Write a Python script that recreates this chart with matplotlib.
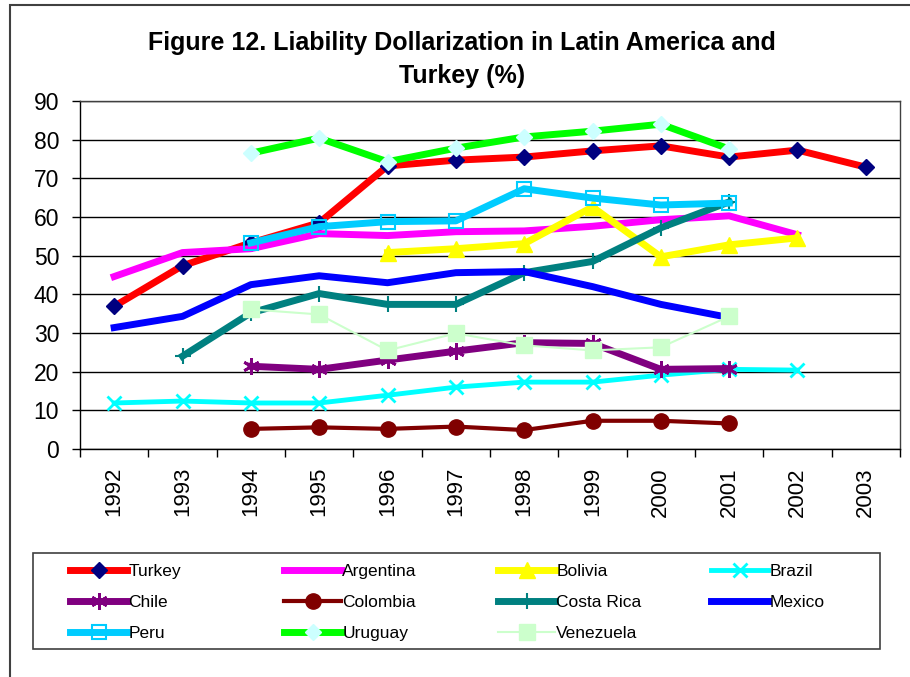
import matplotlib
matplotlib.use("Agg")
import matplotlib.pyplot as plt
import matplotlib.patches as patches
import numpy as np

plt.rcParams['font.family'] = ['Liberation Sans', 'DejaVu Sans']

years = ['1992', '1993', '1994', '1995', '1996', '1997', '1998', '1999',
         '2000', '2001', '2002', '2003']
nan = np.nan

turkey = [36.9, 47.4, 53.3, 58.5, 73.2, 74.7, 75.5, 77.1, 78.4, 75.5, 77.3, 72.9]
argentina = [44.6, 50.8, 51.8, 55.7, 55.2, 56.2, 56.4, 57.6, 59.3, 60.3, 55.4, nan]
bolivia = [nan, nan, nan, nan, 50.8, 51.8, 53.1, 62.6, 49.7, 52.8, 54.6, nan]
brazil = [11.9, 12.4, 11.9, 11.9, 13.9, 16.0, 17.3, 17.3, 19.1, 20.6, 20.4, nan]
chile = [nan, nan, 21.4, 20.6, 23.0, 25.3, 27.5, 27.3, 20.6, 20.8, nan, nan]
colombia = [nan, nan, 5.2, 5.6, 5.2, 5.8, 4.9, 7.3, 7.3, 6.6, nan, nan]
costa_rica = [nan, 24.0, 35.2, 40.2, 37.4, 37.4, 45.6, 48.5, 57.2, 63.9, nan, nan]
mexico = [31.4, 34.3, 42.5, 44.8, 43.0, 45.6, 45.9, 42.0, 37.4, 34.0, nan, nan]
peru = [nan, nan, 53.3, 57.5, 58.8, 59.0, 67.3, 64.9, 63.1, 63.6, nan, nan]
uruguay = [nan, nan, 76.5, 80.4, 74.3, 77.8, 80.7, 82.2, 84.0, 77.6, nan, nan]
venezuela = [nan, nan, 36.1, 34.8, 25.5, 29.9, 26.8, 25.5, 26.3, 34.3, nan, nan]

fig = plt.figure(figsize=(9.1, 6.77), dpi=100)
ax = fig.add_axes([80 / 910, 1 - 449 / 677, 820 / 910, 348 / 677])

x = np.arange(len(years))
lines = {}
# series drawn in the Excel order so later ones sit on top
lines['Turkey'] = ax.plot(x, turkey, color='#FF0000', lw=5, marker='D', ms=8,
                          mfc='#000080', mec='#000080', label='Turkey')[0]
lines['Argentina'] = ax.plot(x, argentina, color='#FF00FF', lw=5, label='Argentina')[0]
lines['Bolivia'] = ax.plot(x, bolivia, color='#FFFF00', lw=5, marker='^', ms=11,
                           mfc='#FFFF00', mec='#FFFF00', label='Bolivia')[0]
lines['Brazil'] = ax.plot(x, brazil, color='#00FFFF', lw=3.5, marker='x', ms=10,
                          mew=2, mec='#00FFFF', label='Brazil')[0]
lines['Chile'] = ax.plot(x, chile, color='#800080', lw=5, marker=(6, 2, 0), ms=12,
                         mew=2, mec='#800080', label='Chile')[0]
lines['Colombia'] = ax.plot(x, colombia, color='#800000', lw=3, marker='o', ms=11,
                            mfc='#800000', mec='#800000', label='Colombia')[0]
lines['Costa Rica'] = ax.plot(x, costa_rica, color='#008080', lw=5, marker='+', ms=12,
                              mew=1.5, mec='#008080', label='Costa Rica')[0]
lines['Mexico'] = ax.plot(x, mexico, color='#0000FF', lw=5, label='Mexico')[0]
lines['Peru'] = ax.plot(x, peru, color='#00CCFF', lw=5, marker='s', ms=10,
                        mfc='none', mec='#00CCFF', mew=1.5, label='Peru')[0]
lines['Uruguay'] = ax.plot(x, uruguay, color='#00FF00', lw=5, marker='D', ms=8,
                           mfc='#CCFFFF', mec='#CCFFFF', label='Uruguay')[0]
lines['Venezuela'] = ax.plot(x, venezuela, color='#CCFFCC', lw=1.5, marker='s', ms=11,
                             mfc='#CCFFCC', mec='#CCFFCC', label='Venezuela')[0]

ax.set_xlim(-0.5, len(years) - 0.5)
ax.set_ylim(0, 90)
ax.set_yticks(np.arange(0, 91, 10))
ax.set_xticks(x)
ax.set_xticklabels(years, rotation=90, fontsize=16)
ax.set_xticks(np.arange(-0.5, len(years), 1), minor=True)
ax.tick_params(axis='x', which='major', length=0, pad=13)
ax.tick_params(axis='x', which='minor', length=6, width=1, direction='out')
ax.tick_params(axis='y', labelsize=16.5, length=6, width=1, direction='out', pad=9)
ax.yaxis.grid(True, color='black', lw=1)
ax.set_axisbelow(True)
for s in ax.spines.values():
    s.set_color('#404040')
    s.set_linewidth(1)
ax.spines['left'].set_color('black')
ax.spines['bottom'].set_color('black')

fig.text(462 / 910, 1 - 59.5 / 677,
         'Figure 12. Liability Dollarization in Latin America and\nTurkey (%)',
         ha='center', va='center', fontsize=18, fontweight='bold', linespacing=1.52)

# legend: four fixed-width columns, row-major like Excel
columns = [['Turkey', 'Chile', 'Peru'],
           ['Argentina', 'Colombia', 'Uruguay'],
           ['Bolivia', 'Costa Rica', 'Venezuela'],
           ['Brazil', 'Mexico']]
col_x = [70, 284, 498, 711]
for names, cx in zip(columns, col_x):
    lg = fig.legend([lines[k] for k in names], names, loc='upper left',
                    bbox_to_anchor=(cx / 910, 1 - 564 / 677),
                    frameon=False, fontsize=12.5, handlelength=3.3, handletextpad=0.05,
                    labelspacing=0.92, numpoints=1, borderpad=0, borderaxespad=0)

fig.patches.append(patches.Rectangle((33 / 910, 1 - 649 / 677), 847 / 910, 96 / 677,
                                     transform=fig.transFigure, fill=False,
                                     edgecolor='#404040', lw=1.2))
fig.patches.append(patches.Rectangle((10 / 910, -0.05), 1.2, 1.05 - 5 / 677,
                                     transform=fig.transFigure, fill=False,
                                     edgecolor='#404040', lw=1.5))

fig.savefig('out.png', dpi=100, facecolor='white')
